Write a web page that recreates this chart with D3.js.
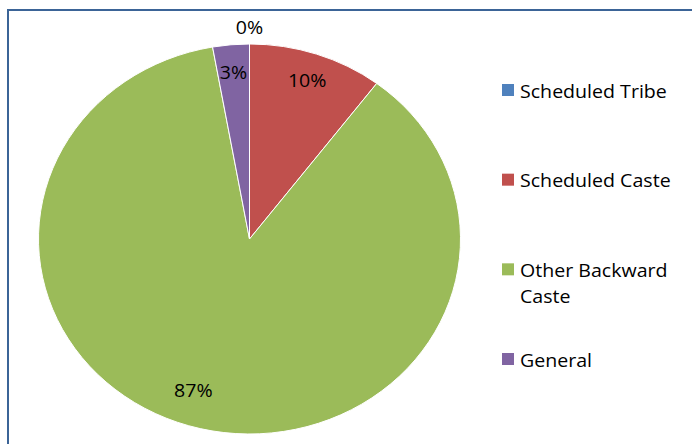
<!DOCTYPE html>
<html>
<head>
<meta charset="utf-8">
<script src="https://cdn.jsdelivr.net/npm/d3@7"></script>
<style>
	body { margin: 0; background: #fff; }
	text { font-family: "Open Sans", sans-serif; fill: #000; }
</style>
</head>
<body>
<svg id="chart" width="692" height="444"></svg>
<script>
// data (share of respondents, %)
var categories = ["Scheduled Tribe", "Scheduled Caste", "Other Backward Caste", "General"];
var shares = [0, 10.3, 86.9, 2.8];
var colours = ["#4f81bd", "#c0504d", "#9bbb59", "#8064a2"];
var legendLines = [["Scheduled Tribe"], ["Scheduled Caste"], ["Other Backward", "Caste"], ["General"]];

var width = 692, height = 444;
var cx = 249.5, cy = 239, rx = 211, ry = 195;
var fontSize = 17.5;
var stretch = 1.12; // the source image was widened a little, text included

var svg = d3.select("#chart");

var slices = categories.map(function (c, i) {
	return { name: c, value: shares[i], colour: colours[i] };
});

var pie = d3.pie()
	.sort(null)
	.value(function (d) { return d.value; });

var arc = d3.arc()
	.innerRadius(0)
	.outerRadius(rx);

var arcs = pie(slices);

// the picture is a bit wider than tall, so squash a round pie into an ellipse
var g_pie = svg.append("g")
	.attr("transform", "translate(" + cx + "," + cy + ") scale(1," + (ry / rx) + ")");

g_pie.selectAll("path")
	.data(arcs)
	.enter()
	.append("path")
	.attr("d", arc)
	.style("fill", function (d) { return d.data.colour; })
	.style("stroke", "#fff")
	.style("stroke-width", 1)
	.attr("vector-effect", "non-scaling-stroke");

// labels: inside the slice, except empty slices which sit just outside the rim
function labelPoint(d) {
	var a = (d.startAngle + d.endAngle) / 2;
	var k = 0.86;
	if (d.data.value === 0) k = 1.085;
	if (d.data.name === "Other Backward Caste") { a = a + 0.095; k = 0.82; }
	return [cx + Math.sin(a) * rx * k, cy - Math.cos(a) * ry * k];
}

svg.append("g")
	.attr("class", "labels")
	.selectAll("text")
	.data(arcs)
	.enter()
	.append("text")
	.attr("transform", function (d) {
		var p = labelPoint(d);
		return "translate(" + p[0] + "," + p[1] + ") scale(" + stretch + ",1)";
	})
	.attr("text-anchor", "middle")
	.attr("dominant-baseline", "central")
	.style("font-size", fontSize + "px")
	.text(function (d) { return Math.round(d.data.value) + "%"; });

// legend
var legendY = d3.scalePoint()
	.domain(categories)
	.range([90, 359]);

var legend = svg.append("g")
	.attr("class", "legend")
	.selectAll("g")
	.data(slices)
	.enter()
	.append("g")
	.attr("transform", function (d) { return "translate(502," + legendY(d.name) + ")"; });

legend.append("rect")
	.attr("x", 0)
	.attr("y", -6)
	.attr("width", 12)
	.attr("height", 12)
	.style("fill", function (d) { return d.colour; });

legend.append("text")
	.attr("transform", "translate(18,0) scale(" + stretch + ",1)")
	.attr("dominant-baseline", "central")
	.style("font-size", fontSize + "px")
	.selectAll("tspan")
	.data(function (d, i) { return legendLines[i]; })
	.enter()
	.append("tspan")
	.attr("x", 0)
	.attr("dy", function (d, i) { return i === 0 ? 0 : 26; })
	.text(function (d) { return d; });

// chart frame (only top and left edges fall inside the crop)
svg.append("path")
	.attr("d", "M8," + height + "V10H" + width)
	.style("fill", "none")
	.style("stroke", "#3b6497")
	.style("stroke-width", 2);
</script>
</body>
</html>
